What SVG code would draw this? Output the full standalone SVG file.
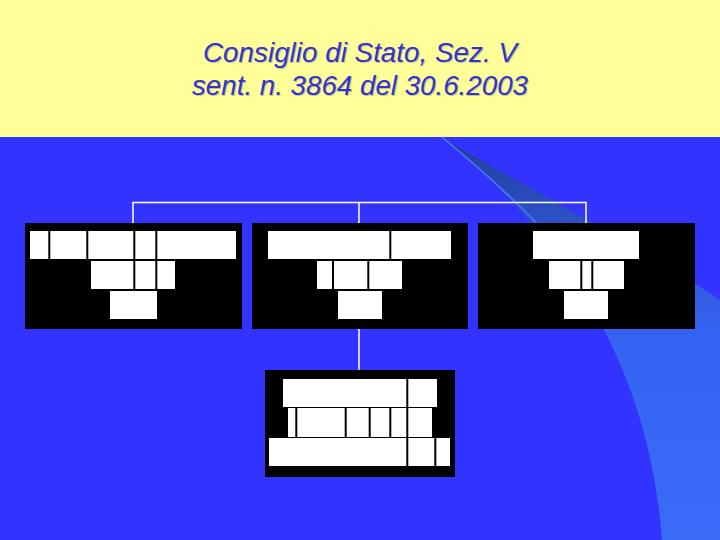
<svg xmlns="http://www.w3.org/2000/svg" width="720" height="540" viewBox="0 0 720 540">
<defs>
<linearGradient id="sw" x1="0" y1="137" x2="0" y2="540" gradientUnits="userSpaceOnUse">
<stop offset="0" stop-color="#223c9c"/>
<stop offset="0.25" stop-color="#2f55d0"/>
<stop offset="0.5" stop-color="#3563f2"/>
<stop offset="1" stop-color="#3a6cf8"/>
</linearGradient>
<style>
.title{font-family:"Liberation Sans",Arial,sans-serif;font-style:italic;font-size:27px;fill:#3333cc;text-anchor:middle}
.shadow{font-family:"Liberation Sans",Arial,sans-serif;font-style:italic;font-size:27px;fill:#c4c49a;text-anchor:middle}
.box{fill:#000}
.cell{fill:#fff}
.div{stroke:#000;stroke-width:2}
.conn{stroke:#fff;stroke-width:1.5;fill:none}
</style>
</defs>
<rect width="720" height="540" fill="#3333ff"/>
<rect width="720" height="137" fill="#ffff99"/>
<path d="M442,137 C520,185 640,245 720,300 L720,540 L662,540 C650,380 580,250 442,137 Z" fill="url(#sw)"/>
<path d="M442,137 C500,185 560,240 590,290" stroke="#4a7cff" stroke-width="1.5" fill="none"/>
<text class="shadow" x="361" y="63" textLength="314" lengthAdjust="spacingAndGlyphs">Consiglio di Stato, Sez. V</text>
<text class="shadow" x="361" y="96" textLength="336" lengthAdjust="spacingAndGlyphs">sent. n. 3864 del 30.6.2003</text>
<text class="title" x="360" y="62" textLength="314" lengthAdjust="spacingAndGlyphs">Consiglio di Stato, Sez. V</text>
<text class="title" x="360" y="95" textLength="336" lengthAdjust="spacingAndGlyphs">sent. n. 3864 del 30.6.2003</text>
<g id="connectors">
<polyline class="conn" points="133,223 133,202.5 586,202.5 586,223"/>
<line class="conn" x1="359" y1="202.5" x2="359" y2="223"/>
<line class="conn" x1="359" y1="329" x2="359" y2="370"/>
</g>
<g id="node1">
<rect class="box" x="25" y="223" width="217" height="106"/>
<rect class="cell" x="30" y="231" width="206" height="28"/>
<rect class="cell" x="91" y="261" width="84" height="28"/>
<rect class="cell" x="110" y="291" width="47" height="28"/>
<line class="div" x1="49.3" y1="231" x2="49.3" y2="259"/>
<line class="div" x1="87.3" y1="231" x2="87.3" y2="259"/>
<line class="div" x1="134.3" y1="231" x2="134.3" y2="289"/>
<line class="div" x1="156.3" y1="231" x2="156.3" y2="289"/>
</g>
<g id="node2">
<rect class="box" x="252" y="223" width="216" height="106"/>
<rect class="cell" x="268" y="231" width="183" height="28"/>
<rect class="cell" x="317" y="261" width="85" height="28"/>
<rect class="cell" x="338" y="291" width="44" height="28"/>
<line class="div" x1="390.3" y1="231" x2="390.3" y2="259"/>
<line class="div" x1="333" y1="261" x2="333" y2="289"/>
<line class="div" x1="368.3" y1="261" x2="368.3" y2="289"/>
</g>
<g id="node3">
<rect class="box" x="478" y="223" width="217" height="106"/>
<rect class="cell" x="533" y="231" width="106" height="28"/>
<rect class="cell" x="549" y="261" width="75" height="28"/>
<rect class="cell" x="564" y="291" width="44" height="28"/>
<line class="div" x1="581.3" y1="261" x2="581.3" y2="289"/>
<line class="div" x1="592.3" y1="261" x2="592.3" y2="289"/>
</g>
<g id="node4">
<rect class="box" x="265" y="370" width="190" height="107"/>
<rect class="cell" x="283" y="379" width="154" height="28"/>
<rect class="cell" x="288" y="408" width="144" height="29"/>
<rect class="cell" x="269" y="438" width="181" height="28"/>
<line class="div" x1="407.3" y1="379" x2="407.3" y2="466"/>
<line class="div" x1="296.3" y1="408" x2="296.3" y2="437"/>
<line class="div" x1="345.7" y1="408" x2="345.7" y2="437"/>
<line class="div" x1="369.7" y1="408" x2="369.7" y2="437"/>
<line class="div" x1="390.3" y1="408" x2="390.3" y2="437"/>
<line class="div" x1="435.3" y1="438" x2="435.3" y2="466"/>
</g>
</svg>
